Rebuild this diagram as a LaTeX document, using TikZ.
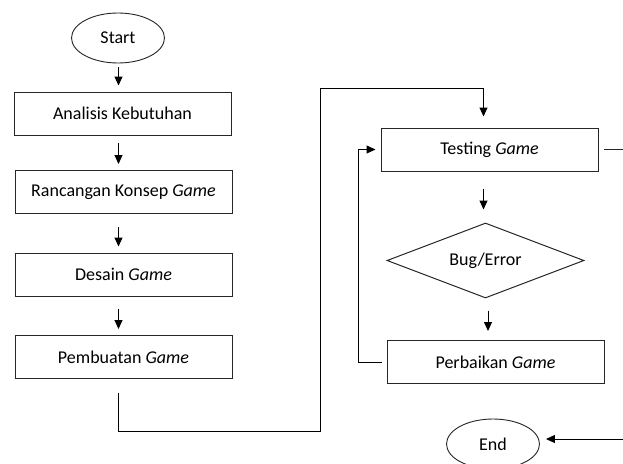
\documentclass[tikz,border=0pt]{standalone}
\usepackage{fontspec}
\setmainfont{Carlito}
\usetikzlibrary{shapes.geometric,arrows.meta,calc}
\definecolor{linegray}{HTML}{262626}
\begin{document}
\begin{tikzpicture}[x=1pt,y=-1pt,
  line width=1pt, draw=linegray,
  every node/.style={font=\fontsize{18}{21}\selectfont, text=black, inner sep=0pt},
  procbox/.style={draw=linegray, rectangle, minimum width=217pt, minimum height=43pt},
  term/.style={draw=linegray, ellipse, line width=0.9pt, minimum width=93pt, minimum height=50pt},
  decide/.style={draw=linegray, diamond, aspect=2.6, minimum width=197pt, minimum height=75pt},
  arr/.style={-{Triangle[length=9pt,width=8pt]}, draw=black},
  conn/.style={draw=linegray}]
\useasboundingbox (0,0) rectangle (623,463);
\begin{scope}
\clip (0,0) rectangle (623,463);
% left column
\node[term] (start) at (118,38) {Start};
\node[procbox] (a1) at (122.5,113.5) {Analisis Kebutuhan};
\node[procbox] (a2) at (123.5,192) {Rancangan Konsep \textit{Game}};
\node[procbox] (a3) at (123.5,274.5) {Desain \textit{Game}};
\node[procbox] (a4) at (123.5,357) {Pembuatan \textit{Game}};
% right column
\node[procbox] (t) at (489.5,149.5) {Testing \textit{Game}};
\node[decide] (d) at (485.5,260.5) {Bug/Error};
\node[procbox] (p) at (495.5,362) {Perbaikan \textit{Game}};
\node[term] (e) at (493,444) {End};
% helper coordinates
\coordinate (colA) at (118.5,0);
\coordinate (colB) at (483.5,0);
\coordinate (colC) at (488,0);
\coordinate (bot) at (0,431);
\coordinate (mid) at (320,0);
\coordinate (top) at (0,88);
\coordinate (fb) at (358,0);
\coordinate (edgeT) at (623,149.5);
\coordinate (edgeE) at (623,439);
% left arrows
\draw[arr, shorten <=4pt, shorten >=6pt] (colA |- start.south) -- (colA |- a1.north);
\draw[arr, shorten <=7pt, shorten >=6pt] (colA |- a1.south) -- (colA |- a2.north);
\draw[arr, shorten <=13pt, shorten >=6pt] (colA |- a2.south) -- (colA |- a3.north);
\draw[arr, shorten <=12pt, shorten >=6pt] (colA |- a3.south) -- (colA |- a4.north);
% connector from Pembuatan to Testing
\draw[arr, shorten <=14pt, shorten >=11pt] (colA |- a4.south) -- (colA |- bot) -- (mid |- bot) -- (mid |- top) -- (colB |- top) -- (colB |- t.north);
% right arrows
\draw[arr, shorten <=17pt, shorten >=13pt] (colB |- t.south) -- (colB |- d.north);
\draw[arr, shorten <=12pt, shorten >=9pt] (colC |- d.south) -- (colC |- p.north);
% feedback
\draw[arr, shorten <=5pt, shorten >=5pt] (p.west) -- (fb |- p.west) -- (fb |- t.west) -- (t.west);
% exits to the right
\draw[conn, shorten <=5pt] (t.east) -- (edgeT);
\draw[arr, shorten >=6pt] (edgeE) -- (e.east |- edgeE);
\end{scope}
\end{tikzpicture}
\end{document}
